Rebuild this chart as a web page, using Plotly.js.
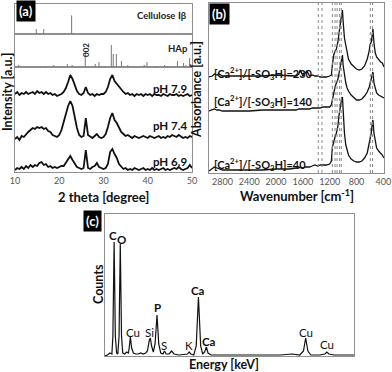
<!DOCTYPE html>
<html>
<head>
<meta charset="utf-8">
<script src="https://cdn.plot.ly/plotly-3.0.1.min.js"></script>
<style>
  html, body { margin: 0; padding: 0; background: #fff; }
  #chart { width: 392px; height: 372px; }
</style>
</head>
<body>
<div id="chart"></div>
<script>
// (a) XRD patterns, 2 theta grid and offset intensities
const twoTheta = [10, 10.5, 11, 11.5, 12, 12.5, 13, 13.5, 14, 14.5, 15, 15.5, 16, 16.5, 17, 17.5, 18, 18.5, 19, 19.5,
  20, 20.5, 21, 21.5, 22, 22.5, 23, 23.5, 24, 24.5, 25, 25.5, 26, 26.5, 27, 27.5, 28, 28.5, 29, 29.5,
  30, 30.5, 31, 31.5, 32, 32.5, 33, 33.5, 34, 34.5, 35, 35.5, 36, 36.5, 37, 37.5, 38, 38.5, 39, 39.5,
  40, 40.5, 41, 41.5, 42, 42.5, 43, 43.5, 44, 44.5, 45, 45.5, 46, 46.5, 47, 47.5, 48, 48.5, 49, 49.5, 50];
const ph79 = [78, 80, 77, 79, 78, 80, 78, 79, 80, 78, 81, 79, 80, 78, 80, 78, 79, 77, 78, 76,
  77, 78, 80, 84, 90, 97, 93, 86, 81, 78, 77, 79, 85, 79, 77, 78, 76, 78, 77, 78,
  78, 80, 85, 93, 97, 91, 88, 85, 82, 80, 78, 79, 77, 78, 76, 78, 77, 78, 76, 78,
  77, 78, 76, 78, 77, 77, 76, 78, 77, 76, 78, 77, 77, 78, 76, 77, 76, 77, 78, 76, 77];
const ph74 = [33, 35, 32, 36, 35, 38, 40, 42, 44, 43, 45, 44, 45, 43, 44, 41, 40, 37, 36, 35,
  37, 42, 50, 58, 66, 71, 66, 55, 44, 37, 35, 36, 54, 37, 35, 34, 36, 38, 35, 34,
  35, 38, 45, 54, 59, 52, 49, 44, 40, 38, 36, 37, 35, 34, 36, 35, 34, 35, 36, 35,
  34, 36, 35, 34, 35, 36, 34, 35, 34, 36, 35, 37, 36, 35, 37, 35, 34, 35, 34, 36, 35];
const ph69 = [2, 4, 3, 5, 3, 6, 4, 7, 5, 7, 6, 9, 10, 7, 8, 5, 6, 4, 5, 4,
  5, 6, 6, 9, 12, 16, 12, 8, 5, 4, 3, 4, 22, 4, 3, 5, 6, 9, 5, 4,
  3, 4, 8, 20, 23, 18, 14, 8, 5, 3, 4, 2, 3, 2, 4, 3, 2, 3, 4, 2,
  3, 2, 4, 2, 3, 2, 3, 4, 2, 3, 2, 3, 4, 3, 5, 3, 2, 3, 4, 7, 4];
const phLabels = ['pH 7.9', 'pH 7.4', 'pH 6.9'];

// reference patterns
const celPos = [14.8, 16.5, 22.8];
const celHt = [5, 5, 19];
const hapPos = [10.82, 16.84, 18.78, 21.82, 22.9, 25.88, 28.13, 28.97, 31.77, 32.2, 32.9, 34.05,
  35.48, 39.2, 39.82, 42.03, 43.8, 44.37, 45.3, 46.71, 48.1, 48.62, 49.47];
const hapHt = [2, 1, 2, 3, 2, 15, 3, 5, 22, 13, 13, 6, 2, 2, 5, 1, 2, 1, 1, 6, 4, 2, 9];

// (b) FT-IR spectra
const wave = [3000, 2950, 2920, 2880, 2850, 2800, 2600, 2400, 2200, 2000, 1800, 1700, 1660, 1640, 1600,
  1560, 1540, 1500, 1460, 1420, 1380, 1340, 1300, 1250, 1200, 1175, 1160, 1140, 1120, 1100, 1080,
  1060, 1040, 1030, 1020, 1010, 1000, 980, 960, 940, 920, 880, 840, 800, 760, 720, 680, 640, 610,
  600, 580, 565, 555, 540, 520, 500, 470, 440, 415, 400, 390];
const ir230 = [96, 97, 99, 98, 99, 97, 97, 97, 97, 98, 97, 97, 99, 103, 97,
  100, 102, 97, 98, 97, 97, 96, 96, 96, 97, 98, 108, 118, 122, 124, 130,
  142, 150, 155, 158, 163, 152, 135, 128, 120, 114, 109, 106, 104, 103, 104, 107, 114, 122,
  128, 131, 140, 144, 130, 120, 116, 113, 111, 110, 107, 106];
const ir140 = [62, 63, 64, 63, 63, 62, 62, 62, 63, 63, 63, 63, 64, 64, 64,
  64, 64, 64, 65, 65, 65, 65, 66, 66, 66, 68, 74, 82, 86, 90, 93,
  100, 108, 112, 116, 118, 108, 97, 90, 85, 82, 78, 75, 73, 73, 74, 77, 81, 86,
  89, 92, 98, 101, 90, 84, 80, 78, 77, 76, 75, 75];
const ir40 = [2, 4, 6, 5, 4, 3, 3, 3, 3, 4, 4, 5, 5, 6, 5,
  6, 6, 6, 7, 8, 7, 8, 8, 8, 9, 12, 26, 32, 36, 40, 46,
  58, 68, 72, 75, 76, 60, 40, 28, 22, 18, 14, 12, 11, 11, 12, 15, 20, 30,
  34, 40, 50, 53, 40, 30, 25, 22, 20, 18, 16, 15];
const irRatios = ['230', '140', '40'];
const bandLines = [1370, 1315, 1160, 1120, 1090, 1052, 1027, 594, 560];

// (c) EDS spectrum
const energy = [-0.1, 0, 0.1, 0.18, 0.22, 0.27, 0.32, 0.37, 0.42, 0.47, 0.52, 0.57, 0.62, 0.7, 0.78, 0.85,
  0.88, 0.93, 0.98, 1.05, 1.15, 1.25, 1.35, 1.45, 1.55, 1.62, 1.7, 1.74, 1.79, 1.86, 1.93, 2.01,
  2.08, 2.16, 2.25, 2.31, 2.38, 2.5, 2.6, 2.7, 2.9, 3.1, 3.25, 3.31, 3.38, 3.5, 3.6, 3.69, 3.78,
  3.86, 3.94, 4.01, 4.08, 4.2, 4.6, 5, 5.5, 6, 6.5, 7, 7.5, 7.8, 7.95, 8.04, 8.13, 8.25, 8.6,
  8.82, 8.9, 8.98, 9.2, 9.6, 10];
const counts = [0, 1, 3, 2, 20, 114, 20, 3, 2, 20, 112, 20, 3, 2, 4, 3,
  8, 19, 8, 3, 2, 2, 3, 2, 3, 5, 16, 18, 10, 4, 12, 41,
  12, 3, 2, 5, 2, 2, 5, 2, 1, 2, 2, 4, 2, 1, 10, 59, 10,
  2, 4, 9, 3, 1, 1, 1, 1, 1, 1, 1, 2, 1, 5, 18, 5, 1, 1,
  2, 4, 2, 1, 1, 1];
const edsLabels = [
  {t: '<b>C</b>', x: 113, y: 235}, {t: '<b>O</b>', x: 121, y: 239},
  {t: 'Cu', x: 133, y: 332}, {t: 'Si', x: 149, y: 332}, {t: '<b>P</b>', x: 157, y: 307},
  {t: 'S', x: 164, y: 345}, {t: 'K', x: 189, y: 345}, {t: '<b>Ca</b>', x: 198, y: 290},
  {t: '<b>Ca</b>', x: 209, y: 341}, {t: 'Cu', x: 306, y: 332}, {t: 'Cu', x: 327, y: 344}
];

const W = 392, H = 372;
const px = v => v / W;
const py = v => 1 - v / H;
const boxColor = '#8f8f8f';

function sticks(pos, hts) {
  const xs = [], ys = [];
  pos.forEach((p, i) => { xs.push(p, p, null); ys.push(0, hts[i], null); });
  return {x: xs, y: ys};
}

const celSt = sticks(celPos, celHt);
const hapSt = sticks(hapPos, hapHt);

const xrdLine = {color: '#111', width: 1.8};
const irLine = {color: '#111', width: 1.3};
const traces = [
  {x: twoTheta, y: ph79, type: 'scatter', mode: 'lines', line: xrdLine, xaxis: 'x', yaxis: 'y'},
  {x: twoTheta, y: ph74, type: 'scatter', mode: 'lines', line: xrdLine, xaxis: 'x', yaxis: 'y'},
  {x: twoTheta, y: ph69, type: 'scatter', mode: 'lines', line: xrdLine, xaxis: 'x', yaxis: 'y'},
  {x: hapSt.x, y: hapSt.y, type: 'scatter', mode: 'lines', line: {color: '#777', width: 1}, xaxis: 'x2', yaxis: 'y2'},
  {x: celSt.x, y: celSt.y, type: 'scatter', mode: 'lines', line: {color: '#777', width: 1}, xaxis: 'x3', yaxis: 'y3'},
  {x: wave, y: ir230, type: 'scatter', mode: 'lines', line: irLine, xaxis: 'x4', yaxis: 'y4'},
  {x: wave, y: ir140, type: 'scatter', mode: 'lines', line: irLine, xaxis: 'x4', yaxis: 'y4'},
  {x: wave, y: ir40, type: 'scatter', mode: 'lines', line: irLine, xaxis: 'x4', yaxis: 'y4'},
  {x: energy, y: counts, type: 'scatter', mode: 'lines', line: {color: '#111', width: 1.2}, xaxis: 'x5', yaxis: 'y5'}
];

const boxAxis = {showgrid: false, zeroline: false, showline: true, mirror: true,
  linecolor: boxColor, linewidth: 1, ticks: '', fixedrange: true};
const tickFont = {size: 9, color: '#555'};

const annotations = [];
function note(text, x, y, opts) {
  annotations.push(Object.assign({text: text, x: px(x), y: py(y), xref: 'paper', yref: 'paper',
    showarrow: false, xanchor: 'center', yanchor: 'middle',
    font: {size: 11, color: '#111', family: 'Lato'}}, opts || {}));
}

const tagFont = {size: 13, color: '#fff', family: 'Lato'};
// panel tags
note('<b>(a)</b>', 26, 11, {bgcolor: '#000', font: tagFont, borderpad: 2});
note('<b>(b)</b>', 219, 14, {bgcolor: '#000', font: tagFont, borderpad: 2});
note('<b>(c)</b>', 92, 221, {bgcolor: '#000', font: tagFont, borderpad: 2});

// panel a texts
note('<b>Cellulose Ⅰβ</b>', 189, 16, {xanchor: 'right', font: {size: 9.5, color: '#222', family: 'Lato'}});
note('<b>HAp</b>', 190, 48, {xanchor: 'right', font: {size: 9.5, color: '#222', family: 'Lato'}});
note('<b>002</b>', 86, 50, {textangle: -90, font: {size: 8, color: '#222', family: 'Lato'}});
const phY = [88, 126, 161];
phLabels.forEach((t, i) => note('<b>' + t + '</b>', 189, phY[i], {xanchor: 'right', font: {size: 11.5, color: '#111', family: 'Lato'}}));
note('<b>Intensity [a.u.]</b>', 7, 92, {textangle: -90, font: {size: 12.5, color: '#111', family: 'Lato'}});
note('<b>2 theta [degree]</b>', 103, 197, {font: {size: 13, color: '#111', family: 'Lato'}});

// panel b texts
const irY = [73, 102, 164];
irRatios.forEach((r, i) => note('<b>[Ca<sup>2+</sup>]/[-SO<sub>3</sub>H]=' + r + '</b>', 212, irY[i],
  {xanchor: 'left', font: {size: 11, color: '#111', family: 'Lato'}}));
note('<b>Absorbance [a.u.]</b>', 196, 90, {textangle: -90, font: {size: 12.5, color: '#111', family: 'Lato'}});
note('<b>Wavenumber [cm<sup>-1</sup>]</b>', 297, 195, {font: {size: 13, color: '#111', family: 'Lato'}});

// panel c texts
edsLabels.forEach(l => note(l.t, l.x, l.y, {font: {size: 11.5, color: '#111', family: 'Lato'}}));
note('<b>Counts</b>', 98, 284, {textangle: -90, font: {size: 12.5, color: '#111', family: 'Lato'}});
note('<b>Energy [keV]</b>', 224, 364, {font: {size: 12.5, color: '#111', family: 'Lato'}});

const bDom = [py(173), py(3)];
const shapes = bandLines.map(w => ({type: 'line', xref: 'x4', yref: 'paper', x0: w, x1: w,
  y0: bDom[0], y1: bDom[1], line: {color: '#888', width: 1, dash: 'dot'}}));

const layout = {
  width: W, height: H,
  margin: {l: 0, r: 0, t: 0, b: 0},
  paper_bgcolor: '#fff', plot_bgcolor: '#fff',
  showlegend: false,
  font: {family: 'Lato', color: '#111'},
  xaxis: Object.assign({}, boxAxis, {domain: [px(15), px(192)], range: [10, 50], anchor: 'y',
    tickvals: [10, 20, 30, 40, 50], tickfont: tickFont}),
  yaxis: Object.assign({}, boxAxis, {domain: [py(172), py(67)], range: [0, 105], anchor: 'x', showticklabels: false}),
  xaxis2: Object.assign({}, boxAxis, {domain: [px(15), px(192)], range: [10, 50], anchor: 'y2', showticklabels: false}),
  yaxis2: Object.assign({}, boxAxis, {domain: [py(67), py(34)], range: [0, 33], anchor: 'x2', showticklabels: false}),
  xaxis3: Object.assign({}, boxAxis, {domain: [px(15), px(192)], range: [10, 50], anchor: 'y3', showticklabels: false}),
  yaxis3: Object.assign({}, boxAxis, {domain: [py(34), py(3.5)], range: [0, 31], anchor: 'x3', showticklabels: false}),
  xaxis4: Object.assign({}, boxAxis, {domain: [px(209), px(384)], range: [3000, 390], anchor: 'y4',
    tickvals: [2800, 2400, 2000, 1600, 1200, 800, 400], tickfont: tickFont}),
  yaxis4: Object.assign({}, boxAxis, {domain: bDom, range: [0, 170], anchor: 'x4', showticklabels: false}),
  xaxis5: Object.assign({}, boxAxis, {domain: [px(105), px(354)], range: [-0.1, 10], anchor: 'y5', showticklabels: false}),
  yaxis5: Object.assign({}, boxAxis, {domain: [py(356), py(214)], range: [0, 142], anchor: 'x5', showticklabels: false}),
  annotations: annotations,
  shapes: shapes
};

Plotly.newPlot('chart', traces, layout, {displayModeBar: false});
</script>
</body>
</html>
